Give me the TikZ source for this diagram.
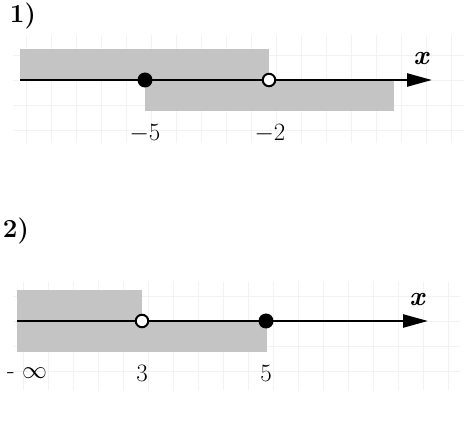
\documentclass[tikz,border=0pt]{standalone}
\usetikzlibrary{arrows.meta}
\tikzset{
  band/.style={fill=black!23},
  gridline/.style={draw=black!5,line width=0.8pt},
  axisline/.style={line width=2.4pt,-{Triangle[length=25pt,width=13pt]}},
  fulldot/.style={circle,fill=black,inner sep=0pt,minimum size=15pt},
  holedot/.style={circle,draw=black,line width=2pt,fill=white,inner sep=0pt,minimum size=12.5pt},
  numlabel/.style={font=\fontsize{25}{28}\selectfont},
  varlabel/.style={font=\fontsize{27}{30}\selectfont\bfseries\itshape},
  partlabel/.style={font=\fontsize{26}{29}\selectfont\bfseries}
}
\begin{document}
\begin{tikzpicture}[x=1pt,y=-1pt]
  \useasboundingbox (0,0) rectangle (464,441);
  % 1)
  \foreach \gx in {26.7,51.7,...,451.8} \draw[gridline] (\gx,35) -- (\gx,143);
  \foreach \gy in {55,80,105,130} \draw[gridline] (13,\gy) -- (464,\gy);
  \fill[band] (20,49) rectangle (269,80);
  \fill[band] (145,80) rectangle (394,111);
  \coordinate (axA0) at (20,80);
  \coordinate (axA1) at (432,80);
  \draw[axisline] (axA0) -- (axA1);
  \node[fulldot] (ptA1) at (145,80) {};
  \node[holedot] (ptA2) at (269,80) {};
  \node[numlabel] (labA1) at (145,134) {$-5$};
  \node[numlabel] (labA2) at (270,134) {$-2$};
  \node[varlabel] (varA) at (421,59) {x};
  \node[partlabel] (partA) at (23,16) {1)};
  % 2)
  \foreach \gx in {23.3,48.3,...,448.4} \draw[gridline] (\gx,282) -- (\gx,390);
  \foreach \gy in {296.7,321.7,346.7,371.7} \draw[gridline] (13,\gy) -- (460,\gy);
  \fill[band] (17,290) rectangle (142,321);
  \fill[band] (17,321) rectangle (267,352);
  \coordinate (axB0) at (17,321);
  \coordinate (axB1) at (428,321);
  \draw[axisline] (axB0) -- (axB1);
  \node[holedot] (ptB1) at (142,321) {};
  \node[fulldot] (ptB2) at (266,321) {};
  \node[numlabel] (labB0) at (27,373) {- $\infty$};
  \node[numlabel] (labB1) at (142,373) {3};
  \node[numlabel] (labB2) at (266,373) {5};
  \node[varlabel] (varB) at (417,300) {x};
  \node[partlabel] (partB) at (16,231) {2)};
\end{tikzpicture}
\end{document}
